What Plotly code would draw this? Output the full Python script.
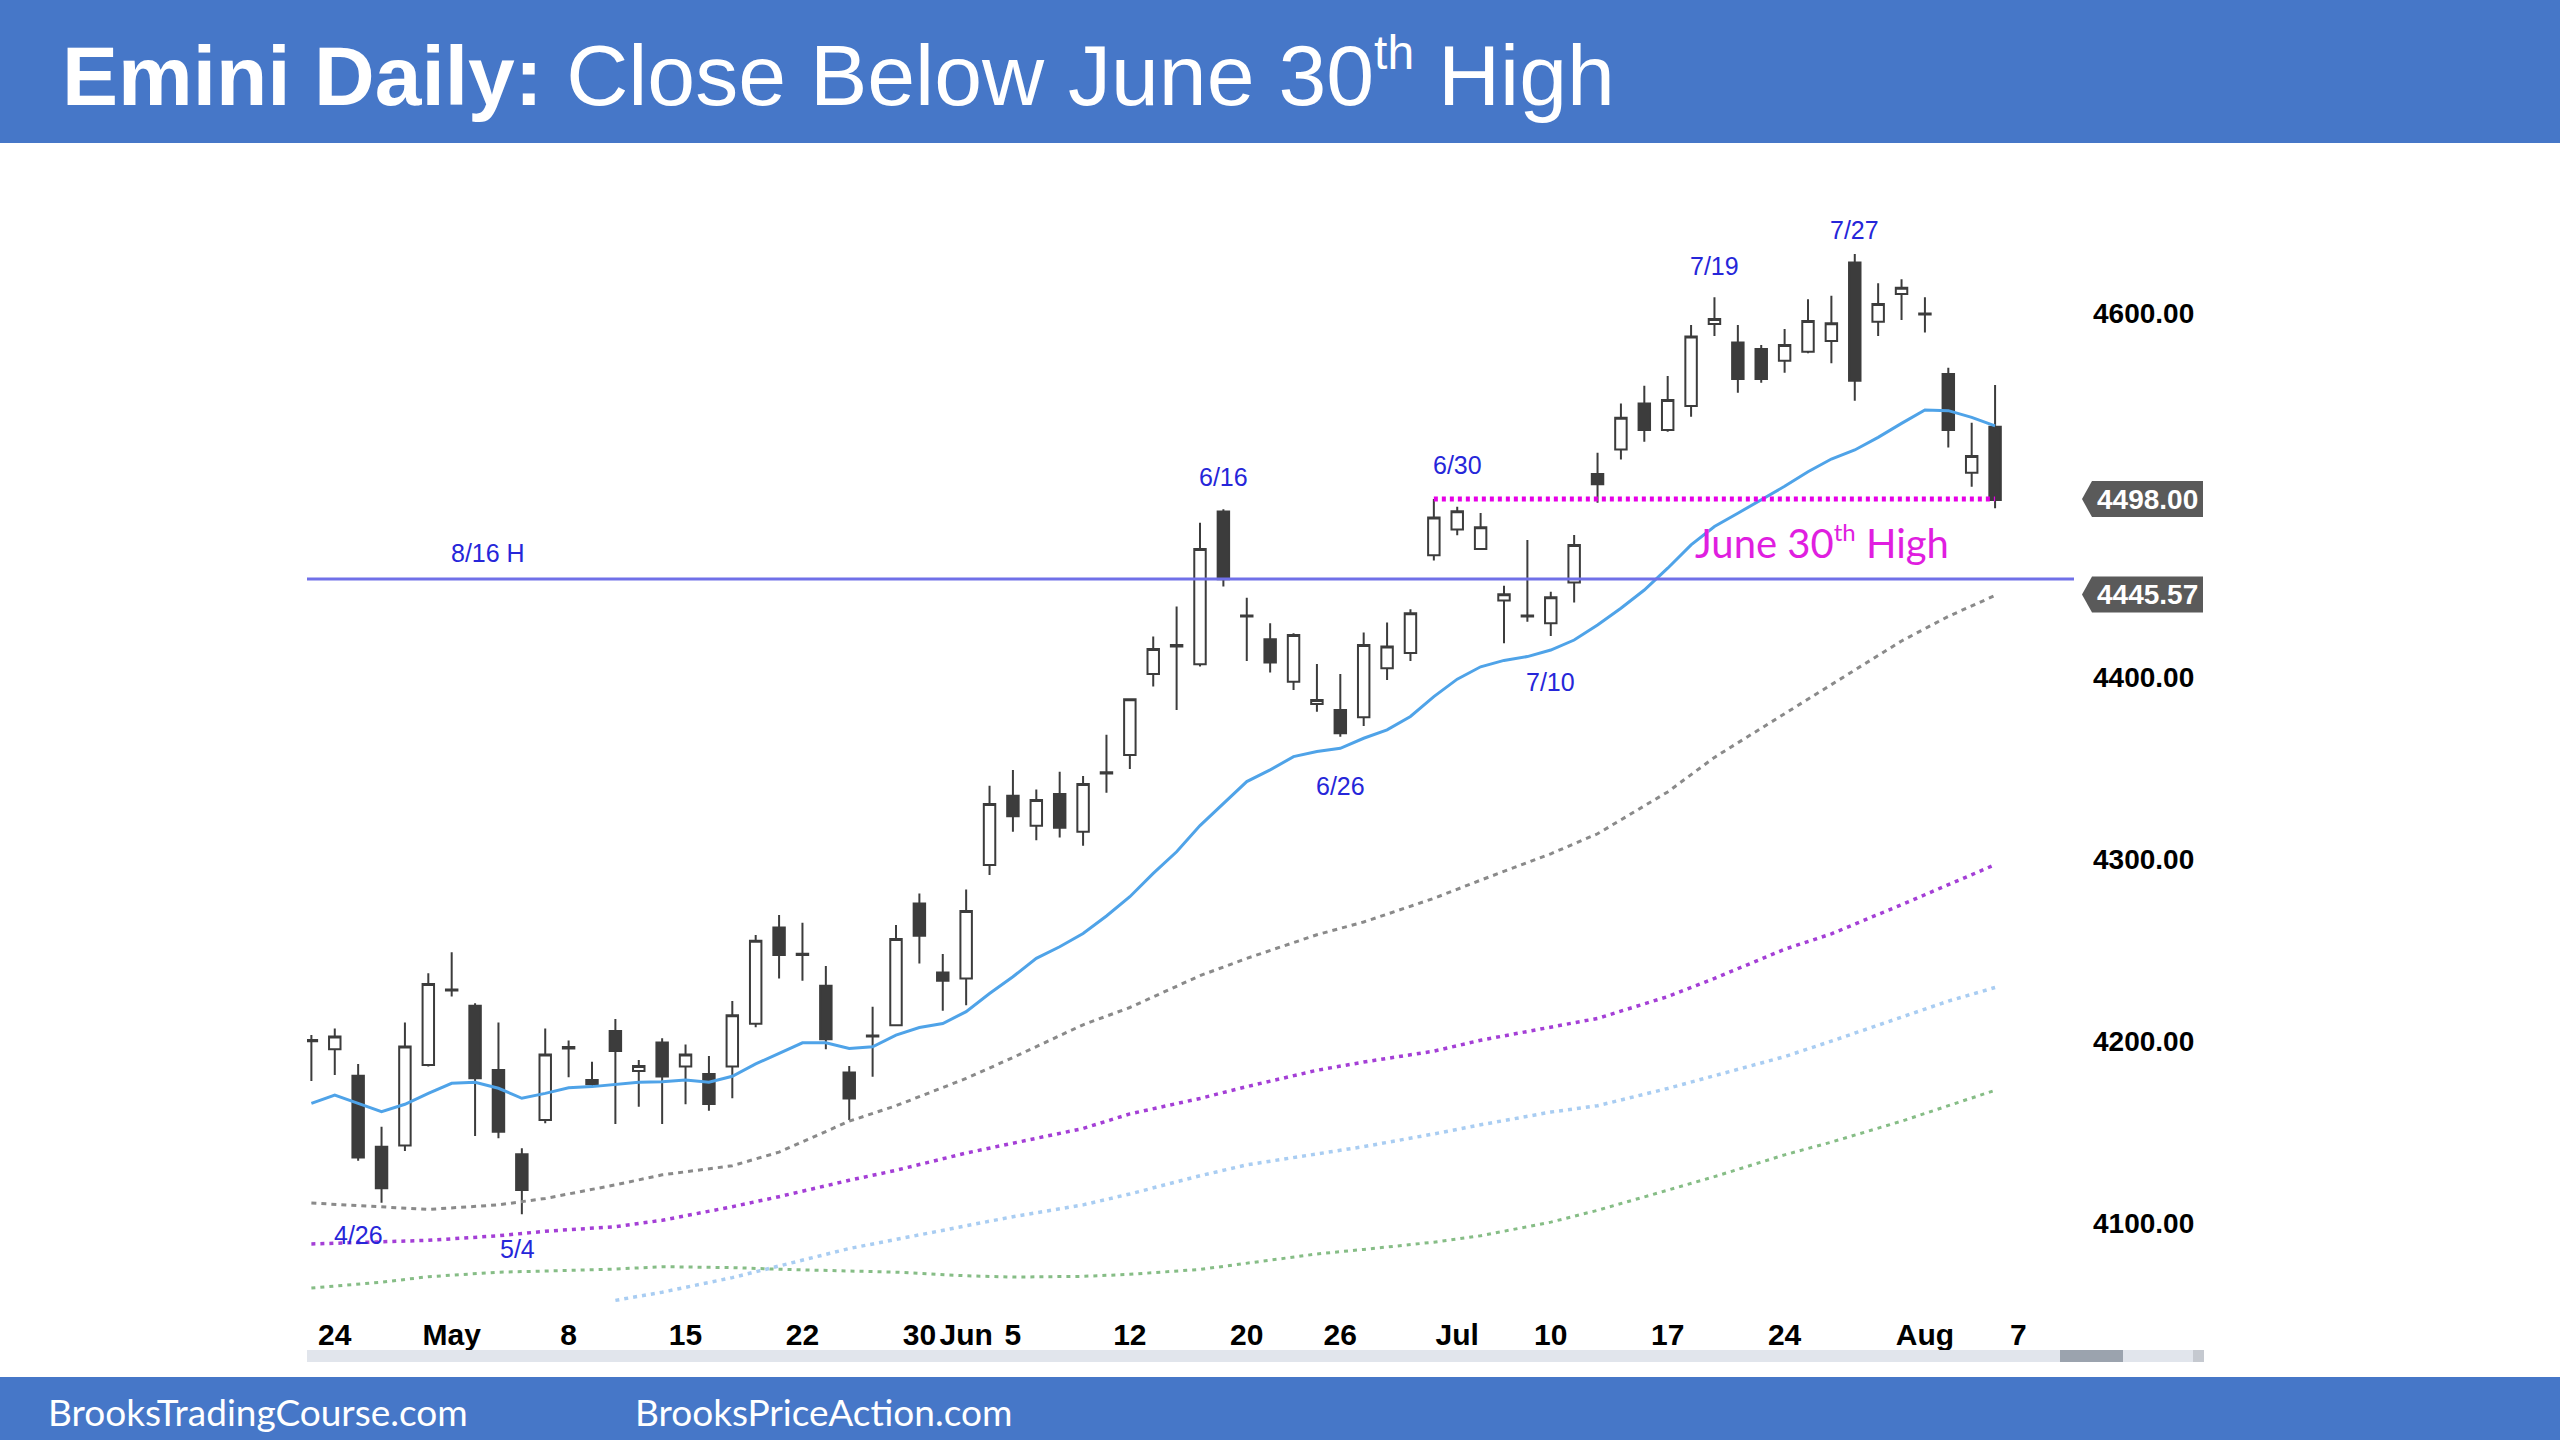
import pandas as pd
import plotly.graph_objects as go

# ---- daily bars, Emini, 21 Apr - 4 Aug 2023 ----
DATES = [
    "2023-04-21", "2023-04-24", "2023-04-25", "2023-04-26", "2023-04-27", "2023-04-28",
    "2023-05-01", "2023-05-02", "2023-05-03", "2023-05-04", "2023-05-05",
    "2023-05-08", "2023-05-09", "2023-05-10", "2023-05-11", "2023-05-12",
    "2023-05-15", "2023-05-16", "2023-05-17", "2023-05-18", "2023-05-19",
    "2023-05-22", "2023-05-23", "2023-05-24", "2023-05-25", "2023-05-26",
    "2023-05-30", "2023-05-31", "2023-06-01", "2023-06-02",
    "2023-06-05", "2023-06-06", "2023-06-07", "2023-06-08", "2023-06-09",
    "2023-06-12", "2023-06-13", "2023-06-14", "2023-06-15", "2023-06-16",
    "2023-06-20", "2023-06-21", "2023-06-22", "2023-06-23",
    "2023-06-26", "2023-06-27", "2023-06-28", "2023-06-29", "2023-06-30",
    "2023-07-03", "2023-07-05", "2023-07-06", "2023-07-07",
    "2023-07-10", "2023-07-11", "2023-07-12", "2023-07-13", "2023-07-14",
    "2023-07-17", "2023-07-18", "2023-07-19", "2023-07-20", "2023-07-21",
    "2023-07-24", "2023-07-25", "2023-07-26", "2023-07-27", "2023-07-28",
    "2023-07-31", "2023-08-01", "2023-08-02", "2023-08-03", "2023-08-04",
]
OPEN = [
    4200.0, 4195.5, 4181.0, 4142.0, 4142.7, 4186.9,
    4228.4, 4219.5, 4184.1, 4137.8, 4156.6,
    4196.0, 4178.6, 4205.6, 4183.6, 4199.2,
    4186.0, 4181.9, 4186.0, 4209.6, 4262.5,
    4247.4, 4230.5, 4182.8, 4202.5, 4208.8,
    4275.7, 4237.8, 4234.5, 4296.8,
    4334.9, 4318.4, 4335.8, 4315.1, 4347.2,
    4357.3, 4401.9, 4417.8, 4407.2, 4491.1,
    4434.0, 4420.9, 4397.6, 4385.4,
    4382.1, 4378.0, 4405.0, 4413.4, 4467.1,
    4481.2, 4470.6, 4442.3, 4434.0,
    4429.7, 4452.1, 4511.8, 4525.3, 4550.6,
    4536.0, 4549.2, 4594.2, 4584.0, 4580.5,
    4574.1, 4579.0, 4584.9, 4628.1, 4595.5,
    4610.7, 4600.0, 4566.7, 4512.5, 4537.8,
]
HIGH = [
    4203.4, 4207.0, 4187.4, 4153.0, 4210.2, 4237.3,
    4248.8, 4220.8, 4210.2, 4141.1, 4207.0,
    4200.3, 4188.7, 4212.2, 4189.6, 4201.6,
    4198.2, 4191.8, 4222.1, 4258.4, 4269.3,
    4265.1, 4241.3, 4186.3, 4218.9, 4263.8,
    4281.2, 4247.9, 4283.4, 4340.4,
    4349.0, 4338.4, 4348.1, 4345.7, 4368.4,
    4388.5, 4422.4, 4438.9, 4485.0, 4492.4,
    4443.8, 4429.7, 4424.2, 4407.3,
    4401.8, 4424.6, 4430.1, 4437.4, 4498.0,
    4493.8, 4490.3, 4450.3, 4475.5,
    4447.1, 4478.3, 4523.5, 4550.6, 4560.3,
    4565.6, 4593.7, 4608.9, 4593.7, 4582.7,
    4591.5, 4607.8, 4609.8, 4632.7, 4616.6,
    4618.8, 4608.9, 4570.2, 4540.0, 4560.7,
]
LOW = [
    4178.1, 4181.4, 4134.3, 4111.2, 4139.6, 4186.0,
    4224.5, 4147.8, 4146.6, 4104.8, 4154.8,
    4180.1, 4175.0, 4154.5, 4164.0, 4154.5,
    4165.3, 4161.8, 4168.6, 4207.6, 4234.5,
    4233.2, 4195.5, 4156.6, 4180.4, 4208.3,
    4242.7, 4216.7, 4219.8, 4291.3,
    4315.1, 4310.5, 4312.0, 4307.4, 4336.6,
    4349.6, 4394.9, 4382.1, 4405.9, 4449.9,
    4409.0, 4402.6, 4393.1, 4381.1,
    4367.4, 4373.3, 4398.6, 4409.0, 4464.2,
    4478.1, 4470.2, 4418.7, 4430.6,
    4422.7, 4441.1, 4496.0, 4519.8, 4529.5,
    4535.0, 4543.3, 4587.6, 4556.5, 4562.0,
    4567.5, 4578.1, 4572.6, 4552.1, 4587.6,
    4596.4, 4589.6, 4526.4, 4504.8, 4492.9,
]
CLOSE = [
    4200.6, 4202.5, 4136.1, 4119.1, 4197.0, 4231.4,
    4227.8, 4179.6, 4150.2, 4118.2, 4192.7,
    4196.8, 4176.3, 4194.6, 4186.3, 4180.5,
    4192.7, 4165.4, 4214.2, 4255.2, 4247.3,
    4248.0, 4201.0, 4168.5, 4203.1, 4256.1,
    4258.0, 4233.2, 4271.5, 4330.3,
    4323.7, 4332.5, 4317.3, 4341.3, 4347.8,
    4387.9, 4415.6, 4417.0, 4470.6, 4453.9,
    4433.4, 4408.1, 4423.3, 4387.6,
    4369.2, 4417.8, 4416.9, 4435.2, 4487.9,
    4491.3, 4482.5, 4445.7, 4433.4,
    4444.0, 4472.8, 4506.1, 4542.7, 4536.0,
    4552.4, 4587.3, 4597.0, 4564.0, 4564.0,
    4582.7, 4595.9, 4594.6, 4563.1, 4605.2,
    4614.2, 4599.4, 4536.0, 4521.7, 4497.5,
]

# 20-bar EMA, one value per bar
EMA20 = [
    4165.8, 4170.4, 4165.8, 4161.2, 4165.3, 4171.3,
    4176.8, 4177.4, 4174.1, 4168.6, 4171.3,
    4174.4, 4175.0, 4176.4, 4177.4, 4177.7,
    4178.6, 4177.4, 4180.7, 4187.5, 4193.3,
    4199.1, 4199.1, 4196.0, 4196.9, 4203.3,
    4207.5, 4209.7, 4216.2, 4226.2,
    4235.4, 4245.5, 4251.9, 4259.2, 4268.8,
    4279.4, 4292.2, 4304.1, 4318.5, 4330.7,
    4342.7, 4349.1, 4356.4, 4359.2,
    4361.0, 4366.5, 4371.1, 4378.5, 4389.4,
    4399.0, 4405.8, 4409.3, 4411.4,
    4415.0, 4420.5, 4428.8, 4438.0, 4448.0,
    4460.0, 4472.8, 4482.9, 4490.2, 4497.5,
    4505.0, 4513.0, 4520.0, 4525.0, 4531.9,
    4539.6, 4547.0, 4546.6, 4542.9, 4538.2,
]

# slower moving averages, read at every few bars
MA_DATES = [
    "2023-04-21", "2023-04-26", "2023-04-28", "2023-05-03", "2023-05-05",
    "2023-05-10", "2023-05-12", "2023-05-17", "2023-05-19", "2023-05-24",
    "2023-05-26", "2023-06-01", "2023-06-05", "2023-06-08", "2023-06-12",
    "2023-06-15", "2023-06-20", "2023-06-23", "2023-06-27", "2023-06-30",
    "2023-07-05", "2023-07-10", "2023-07-12", "2023-07-17", "2023-07-19",
    "2023-07-24", "2023-07-26", "2023-07-31", "2023-08-02", "2023-08-04",
]
MA_GRAY = [
    4111.0, 4109.0, 4107.5, 4110.0, 4113.5, 4121.0, 4126.5, 4131.5, 4139.0, 4156.0,
    4164.5, 4179.5, 4191.0, 4209.0, 4218.5, 4236.0, 4245.5, 4258.5, 4265.5, 4278.5,
    4288.5, 4303.0, 4314.0, 4337.0, 4356.0, 4380.0, 4396.0, 4420.0, 4433.5, 4445.0,
]
MA_PURPLE = [
    4088.5, 4089.5, 4090.5, 4093.0, 4095.5, 4098.0, 4101.5, 4109.0, 4114.5, 4123.5,
    4129.0, 4138.5, 4144.0, 4152.0, 4160.0, 4168.5, 4175.0, 4184.0, 4188.5, 4194.5,
    4200.5, 4207.5, 4212.5, 4224.5, 4234.5, 4250.5, 4259.0, 4275.0, 4286.0, 4297.0,
]
MA_LIGHTBLUE_DATES = MA_DATES[5:]
MA_LIGHTBLUE = [
    4057.5, 4062.0, 4070.0, 4076.5, 4086.0,
    4091.0, 4098.5, 4103.5, 4110.0, 4116.0, 4126.0, 4132.0, 4138.0, 4142.0, 4149.0,
    4154.0, 4161.0, 4164.5, 4174.0, 4181.0, 4191.5, 4200.0, 4213.5, 4222.0, 4229.5,
]
MA_GREEN = [
    4064.3, 4067.5, 4070.5, 4073.0, 4073.6, 4074.7, 4076.0, 4075.5, 4074.6, 4073.8,
    4073.0, 4071.0, 4070.3, 4070.7, 4071.8, 4074.5, 4078.0, 4083.0, 4085.5, 4089.5,
    4093.0, 4100.5, 4107.0, 4118.0, 4125.5, 4137.5, 4144.5, 4156.0, 4164.5, 4173.0,
]

HOLIDAYS = ["2023-05-29", "2023-06-19", "2023-07-04"]

TICK_DATES = [
    "2023-04-24", "2023-05-01", "2023-05-08", "2023-05-15", "2023-05-22",
    "2023-05-30", "2023-06-01", "2023-06-05", "2023-06-12", "2023-06-20",
    "2023-06-26", "2023-07-03", "2023-07-10", "2023-07-17", "2023-07-24",
    "2023-08-01", "2023-08-07",
]
TICK_TEXT = ["24", "May", "8", "15", "22", "30", "Jun", "5", "12", "20",
             "26", "Jul", "10", "17", "24", "Aug", "7"]
PRICE_TICKS = [4100, 4200, 4300, 4400, 4600]

JUNE30_HIGH = 4498.0
LAST_PRICE_LABEL = "4498.00"
AUG16_LINE = 4454.0
AUG16_LABEL_Y = 4445.57
AUG16_LABEL = "4445.57"

# (text, date, price, xshift)
DATE_LABELS = [
    ("8/16 H", "2023-05-03", 4468.3, -10),
    ("6/16", "2023-06-16", 4510.0, 0),
    ("6/30", "2023-06-30", 4517.0, 24),
    ("7/19", "2023-07-19", 4626.0, 0),
    ("7/27", "2023-07-27", 4646.0, 0),
    ("7/10", "2023-07-10", 4397.5, 0),
    ("6/26", "2023-06-26", 4340.0, 0),
    ("4/26", "2023-04-26", 4093.5, -23),
    ("5/4", "2023-05-04", 4085.5, -4),
]

# ---- layout geometry (pixels) ----
W, H = 2560, 1440
L, R, T, B = 307, 2074, 180, 1306
BLUE_BAR = "#4677C8"
SANS = "Liberation Sans, Arial, sans-serif"
NARROW = "Liberation Sans Narrow, Arial Narrow, Liberation Sans, Arial, sans-serif"
LATO = "Lato, Open Sans, sans-serif"


def px(x):
    return (x - L) / (R - L)


def py(y):
    return (B - y) / (B - T)


NOON = pd.Timedelta(hours=12)


def at_noon(days):
    return pd.to_datetime(days) + NOON


x = at_noon(DATES)

fig = go.Figure()

fig.add_trace(go.Candlestick(
    x=x, open=OPEN, high=HIGH, low=LOW, close=CLOSE,
    increasing=dict(line=dict(color="#3c3c3c", width=2), fillcolor="white"),
    decreasing=dict(line=dict(color="#3c3c3c", width=2), fillcolor="#3c3c3c"),
    whiskerwidth=0, showlegend=False, hoverinfo="skip",
))

ma_styles = [
    (MA_DATES, MA_GRAY, "#8a8a8a", "5px,5px", 3),
    (MA_DATES, MA_PURPLE, "#a43fd6", "4px,5px", 3.5),
    (MA_LIGHTBLUE_DATES, MA_LIGHTBLUE, "#a9cdf2", "4px,5px", 3.5),
    (MA_DATES, MA_GREEN, "#86bd86", "4px,5px", 3),
]
for dates, vals, color, dash, width in ma_styles:
    fig.add_trace(go.Scatter(
        x=at_noon(dates), y=vals, mode="lines",
        line=dict(color=color, dash=dash, width=width),
        showlegend=False, hoverinfo="skip",
    ))

fig.add_trace(go.Scatter(
    x=x, y=EMA20, mode="lines",
    line=dict(color="#4fa3e8", width=3),
    showlegend=False, hoverinfo="skip",
))

shapes = [
    # title and footer bars
    dict(type="rect", xref="paper", yref="paper", x0=px(0), x1=px(W), y0=py(0), y1=py(143),
         fillcolor=BLUE_BAR, line_width=0, layer="below"),
    dict(type="rect", xref="paper", yref="paper", x0=px(0), x1=px(W), y0=py(1377), y1=py(H),
         fillcolor=BLUE_BAR, line_width=0, layer="below"),
    # scrollbar
    dict(type="rect", xref="paper", yref="paper", x0=px(307), x1=px(2204), y0=py(1350), y1=py(1362),
         fillcolor="#e1e5ec", line_width=0),
    dict(type="rect", xref="paper", yref="paper", x0=px(2060), x1=px(2123), y0=py(1350), y1=py(1362),
         fillcolor="#9ba3ae", line_width=0),
    dict(type="rect", xref="paper", yref="paper", x0=px(2193), x1=px(2204), y0=py(1350), y1=py(1362),
         fillcolor="#c5c9d0", line_width=0),
    # 8/16 high line
    dict(type="line", xref="paper", yref="y", x0=0, x1=1, y0=AUG16_LINE, y1=AUG16_LINE,
         line=dict(color="#7070e8", width=3)),
    # June 30 high
    dict(type="line", xref="x", yref="y", x0=at_noon("2023-06-30"), x1=at_noon("2023-08-04"),
         y0=JUNE30_HIGH, y1=JUNE30_HIGH, line=dict(color="#e600e6", width=5, dash="4px,4px")),
]

# price tags on the right axis
half = 18 / ((B - T) / (4673.4 - 4054.4))
for level in (JUNE30_HIGH, AUG16_LABEL_Y):
    shapes.append(dict(
        type="path", xref="paper", yref="y", fillcolor="#5a5a5a", line_width=0,
        path=(f"M {px(2082)},{level} L {px(2092)},{level + half} L {px(2203)},{level + half} "
              f"L {px(2203)},{level - half} L {px(2092)},{level - half} Z"),
    ))

title_text = ('<b>Emini Daily:</b> <span style="font-size:86px">Close Below June 30'
              '<sup><span style="font-size:48px">th</span></sup> High</span>')
annotations = [
    dict(xref="paper", yref="paper", x=px(60), y=py(74), xanchor="left", yanchor="middle",
         text=title_text, showarrow=False,
         font=dict(family=SANS, size=84, color="white")),
    dict(xref="paper", yref="paper", x=px(46), y=py(1411), xanchor="left", yanchor="middle",
         text="BrooksTradingCourse.com", showarrow=False,
         font=dict(family=LATO, size=37, color="white")),
    dict(xref="paper", yref="paper", x=px(633), y=py(1411), xanchor="left", yanchor="middle",
         text="BrooksPriceAction.com", showarrow=False,
         font=dict(family=LATO, size=37, color="white")),
    dict(xref="x", yref="y", x=at_noon("2023-07-26"), y=4474.4, xshift=-9,
         xanchor="center", yanchor="middle",
         text='June 30<sup><span style="font-size:24px">th</span></sup> High', showarrow=False,
         font=dict(family=LATO, size=40, color="#e01ee0")),
    dict(xref="paper", yref="y", x=px(2147), y=JUNE30_HIGH, text=LAST_PRICE_LABEL,
         xanchor="center", yanchor="middle", showarrow=False,
         font=dict(family=SANS, size=28, color="white", weight="bold")),
    dict(xref="paper", yref="y", x=px(2147), y=AUG16_LABEL_Y, text=AUG16_LABEL,
         xanchor="center", yanchor="middle", showarrow=False,
         font=dict(family=SANS, size=28, color="white", weight="bold")),
]
for text, day, price, shift in DATE_LABELS:
    annotations.append(dict(
        xref="x", yref="y", x=at_noon(day), y=price, xshift=shift, text=text,
        xanchor="center", yanchor="middle", showarrow=False,
        font=dict(family=SANS, size=25, color="#2626d9"),
    ))

fig.update_layout(
    width=W, height=H,
    margin=dict(l=L, r=W - R, t=T, b=H - B),
    paper_bgcolor="white", plot_bgcolor="white",
    shapes=shapes, annotations=annotations,
    showlegend=False,
    xaxis=dict(
        range=[pd.Timestamp("2023-04-21 07:30"), pd.Timestamp("2023-08-09 21:00")],
        rangebreaks=[dict(bounds=["sat", "mon"]), dict(values=HOLIDAYS)],
        rangeslider=dict(visible=False),
        tickmode="array", tickvals=at_noon(TICK_DATES), ticktext=TICK_TEXT,
        tickfont=dict(family=NARROW, size=30, color="black", weight="bold"),
        ticks="", ticklabelstandoff=8,
        showgrid=False, zeroline=False, showline=False,
    ),
    yaxis=dict(
        side="right", range=[4054.4, 4673.4],
        tickmode="array", tickvals=PRICE_TICKS, tickformat=".2f",
        tickfont=dict(family=SANS, size=28, color="black", weight="bold"),
        ticks="", ticklabelstandoff=18,
        showgrid=False, zeroline=False, showline=False,
    ),
)

fig.write_html("out.html", config={"displayModeBar": False},
               post_script="document.body.style.margin='0';")
